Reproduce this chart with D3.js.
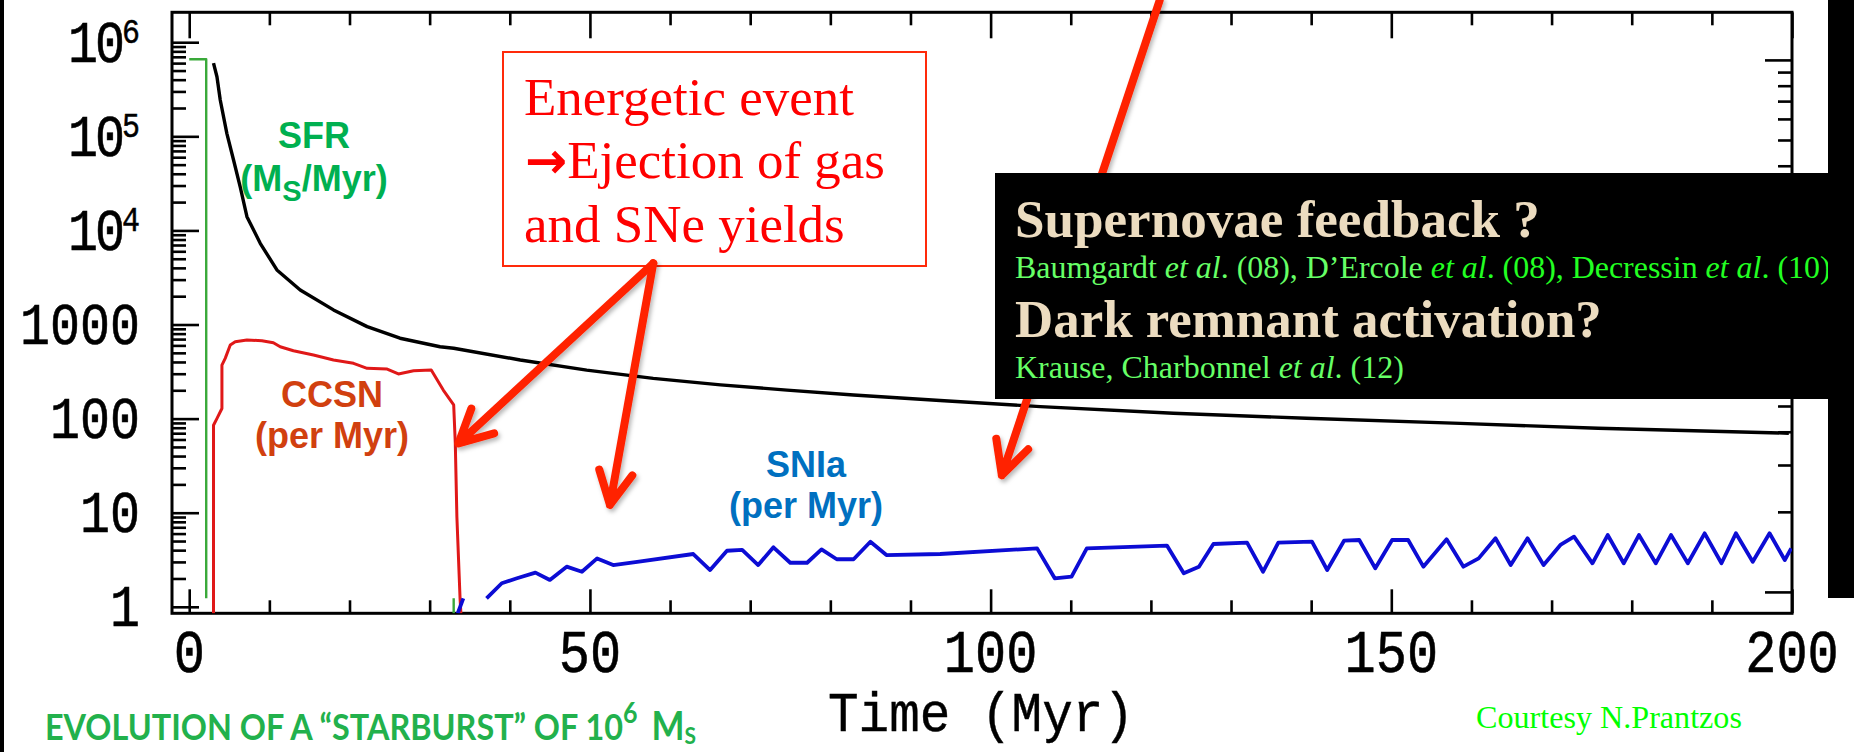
<!DOCTYPE html>
<html>
<head>
<meta charset="utf-8">
<script src="https://cdn.jsdelivr.net/npm/d3@7"></script>
<style>
  html, body { margin: 0; padding: 0; background: #fff; overflow: hidden; }
  svg { display: block; }
</style>
</head>
<body>
<svg id="chart" width="1854" height="752"></svg>
<script>
// ---------- data (time in Myr, rates on a log axis) ----------
// Star formation rate (Msun/Myr): instantaneous burst, then a tiny late blip
const sfrTime = [0, 2.12, 2.12, 2.12, 33.0, 33.0];
const sfrRate = [6.6e5, 6.6e5, 1.23, null, 0.85, 1.23];

// Mass return / ejecta curve (black)
const ejectaTime = [3.03, 3.46, 3.87, 4.7, 5.53, 6.36, 7.2, 8.86, 10.94, 13.85, 18.0, 22.2, 26.3,
  31.3, 33.0, 41.3, 49.6, 57.9, 66.3, 74.6, 82.9, 93.7, 106.2, 122.8, 139.4, 158.6, 175.8, 199.6];
const ejectaRate = [6.0e5, 4.3e5, 2.43e5, 1.07e5, 5.6e4, 2.9e4, 1.4e4, 7300, 3800, 2330, 1430, 950, 715,
  580, 560, 420, 328, 268, 228, 201, 178, 156, 134, 114, 101, 89, 79, 70];

// Core-collapse supernovae per Myr
const ccsnTime = [3.03, 3.03, 3.45, 4.08, 4.08, 4.49, 5.12, 5.74, 7.2, 9.07, 10.5, 11.35, 13.0, 15.5,
  18.0, 20.5, 22.2, 24.7, 26.1, 28.0, 30.2, 31.7, 33.0, 33.2, 33.4, 33.8, 33.9];
const ccsnRate = [0.85, 85, 100, 128, 370, 437, 605, 656, 684, 673, 641, 581, 527, 474,
  420, 387, 342, 336, 298, 323, 328, 201, 140, 55, 9, 1.2, 0.85];

// Type Ia supernovae per Myr
const sn1aTime = [33.5, 34.2, 35.0, 37.1, 39.0, 40.9, 43.2, 45.0, 47.1, 49.0, 50.9, 52.9, 55.9, 62.9, 65.0,
  67.1, 69.0, 71.0, 72.9, 75.0, 77.1, 78.9, 80.8, 82.9, 85.0, 87.0, 93.7, 105.8, 108.0, 110.1, 112.0,
  122.0, 124.1, 126.0, 127.8, 132.0, 134.0, 135.9, 140.1, 142.0, 144.1, 146.0, 148.0, 150.1, 152.1,
  154.0, 156.9, 159.0, 160.9, 163.0, 164.9, 167.0, 169.0, 171.1, 172.8, 175.1, 177.0, 179.0, 180.9,
  183.0, 184.9, 187.0, 189.1, 191.2, 193.0, 195.1, 197.2, 199.1, 199.9];
const sn1aRate = [0.85, 1.23, null, 1.23, 1.78, 2.01, 2.31, 1.93, 2.67, 2.36, 3.27, 2.78, 3.01, 3.64, 2.46,
  3.94, 4.02, 2.78, 4.29, 2.94, 2.94, 4.08, 3.2, 3.2, 4.92, 3.55, 3.64, 4.18, 2.01, 2.09, 4.18,
  4.47, 2.27, 2.67, 4.65, 4.8, 2.36, 4.8, 4.92, 2.46, 5.04, 5.13, 2.57, 5.13, 5.13,
  2.67, 5.21, 2.67, 3.27, 5.35, 2.78, 5.35, 2.78, 4.54, 5.56, 2.9, 5.79, 2.9, 5.79,
  2.9, 5.79, 2.9, 6.04, 2.9, 6.04, 3.01, 6.04, 3.14, 4.18];

// axis ticks and labels
const xMajorTicks = [0, 50, 100, 150, 200];
const xMinorTicks = [10, 20, 30, 40, 60, 70, 80, 90, 110, 120, 130, 140, 160, 170, 180, 190];
const yMajorTicks = [1, 10, 100, 1000, 1e4, 1e5, 1e6];
const yTickLabels = [["1"], ["10"], ["100"], ["1000"], ["10", "4"], ["10", "5"], ["10", "6"]];
const rightMajorTicks = [1, 10, 100];
const xAxisTitle = "Time (Myr)";

// annotation arrows, anchored in data space [time, rate]
const arrowFrom = [[57.9, 4470], [57.9, 4470], [121.1, 2.8e6]];
const arrowTo = [[33.6, 54.6], [52.5, 12.1], [101.4, 25]];

// ---------- layout ----------
const svg = d3.select("#chart");
const frame = { left: 172, right: 1792, top: 12.3, bottom: 613.3 };

const x = d3.scaleLinear().domain([-2.15, 200]).range([frame.left, frame.right]);
const y = d3.scaleLog().domain([0.853, 2.08e6]).range([frame.bottom, frame.top]);
const yRight = d3.scaleLog().domain([0.831, 151]).range([frame.bottom, frame.top]);

const yMinorTicks = yMajorTicks.slice(0, -1).flatMap(d => d3.range(2, 10).map(m => m * d));
const rightMinorTicks = rightMajorTicks.slice(0, -1).flatMap(d => d3.range(2, 10).map(m => m * d));

svg.append("rect").attr("width", 1854).attr("height", 752).attr("fill", "#fff");

const defs = svg.append("defs");
defs.append("clipPath").attr("id", "plotClip").append("rect")
  .attr("x", frame.left).attr("y", frame.top)
  .attr("width", frame.right - frame.left).attr("height", frame.bottom - frame.top);
const shadow = defs.append("filter").attr("id", "arrowShadow")
  .attr("x", "-20%").attr("y", "-20%").attr("width", "140%").attr("height", "140%");
shadow.append("feDropShadow").attr("dx", 2).attr("dy", 3).attr("stdDeviation", 2)
  .attr("flood-color", "#000").attr("flood-opacity", 0.28);

// ---------- axes ----------
function styleAxis(g) {
  g.select(".domain").remove();
  g.selectAll(".tick line").attr("stroke", "#000").attr("stroke-width", 2.6);
  g.selectAll(".tick text").remove();
}
const axes = svg.append("g");
axes.append("g").attr("transform", `translate(0,${frame.bottom})`)
  .call(d3.axisTop(x).tickValues(xMinorTicks).tickSize(13)).call(styleAxis);
axes.append("g").attr("transform", `translate(0,${frame.bottom})`)
  .call(d3.axisTop(x).tickValues(xMajorTicks).tickSize(24)).call(styleAxis);
axes.append("g").attr("transform", `translate(0,${frame.top})`)
  .call(d3.axisBottom(x).tickValues(xMinorTicks).tickSize(13)).call(styleAxis);
axes.append("g").attr("transform", `translate(0,${frame.top})`)
  .call(d3.axisBottom(x).tickValues(xMajorTicks).tickSize(26)).call(styleAxis);
axes.append("g").attr("transform", `translate(${frame.left},0)`)
  .call(d3.axisRight(y).tickValues(yMinorTicks).tickSize(14)).call(styleAxis);
axes.append("g").attr("transform", `translate(${frame.left},0)`)
  .call(d3.axisRight(y).tickValues(yMajorTicks).tickSize(27)).call(styleAxis);
axes.append("g").attr("transform", `translate(${frame.right},0)`)
  .call(d3.axisLeft(yRight).tickValues(rightMinorTicks).tickSize(14)).call(styleAxis);
axes.append("g").attr("transform", `translate(${frame.right},0)`)
  .call(d3.axisLeft(yRight).tickValues(rightMajorTicks).tickSize(27)).call(styleAxis);

svg.append("rect")
  .attr("x", frame.left).attr("y", frame.top)
  .attr("width", frame.right - frame.left).attr("height", frame.bottom - frame.top)
  .attr("fill", "none").attr("stroke", "#000").attr("stroke-width", 3);

// tick labels (typewriter style, slightly tall)
const monoFont = "'Liberation Mono', 'Courier New', monospace";
const yLabels = svg.append("g");
yMajorTicks.forEach((v, i) => {
  const lab = yTickLabels[i];
  const g = yLabels.append("g").attr("transform", `translate(140,${y(v) + 19.5}) scale(1,1.18)`);
  const t = g.append("text").attr("text-anchor", "end")
    .attr("font-family", monoFont).attr("font-size", 50).attr("fill", "#000")
    .attr("stroke", "#000").attr("stroke-width", 0.5);
  if (lab.length === 1) {
    t.text(lab[0]);
  } else {
    t.append("tspan").attr("letter-spacing", -3).text(lab[0]);
    t.append("tspan").attr("font-size", 30).attr("dy", -16).attr("stroke-width", 0.4).text(lab[1]);
  }
});
const xLabels = svg.append("g");
xMajorTicks.forEach(v => {
  xLabels.append("g").attr("transform", `translate(${x(v)},672) scale(1,1.18)`)
    .append("text").attr("text-anchor", "middle")
    .attr("font-family", monoFont).attr("font-size", 52).attr("fill", "#000")
    .attr("stroke", "#000").attr("stroke-width", 0.5).text(v);
});
svg.append("g").attr("transform", `translate(981,731) scale(1,1.1)`)
  .append("text").attr("text-anchor", "middle")
  .attr("font-family", monoFont).attr("font-size", 51).attr("fill", "#000")
  .attr("stroke", "#000").attr("stroke-width", 0.4).text(xAxisTitle);

// ---------- curves ----------
const toPoints = (ts, vs) => ts.map((t, i) => ({ t, v: vs[i] }));
const line = d3.line().defined(d => d.v != null).x(d => x(d.t)).y(d => y(d.v));
const curves = svg.append("g").attr("clip-path", "url(#plotClip)")
  .attr("fill", "none").attr("stroke-linejoin", "round");
curves.append("path").attr("d", line(toPoints(sfrTime, sfrRate)))
  .attr("stroke", "#3aa93a").attr("stroke-width", 2.4);
curves.append("path").attr("d", line(toPoints(ejectaTime, ejectaRate)))
  .attr("stroke", "#000").attr("stroke-width", 3.4);
curves.append("path").attr("d", line(toPoints(ccsnTime, ccsnRate)))
  .attr("stroke", "#e01818").attr("stroke-width", 3);
curves.append("path").attr("d", line(toPoints(sn1aTime, sn1aRate)))
  .attr("stroke", "#0c0cd4").attr("stroke-width", 3.8);

// ---------- series labels ----------
const sansBold = "'Liberation Sans', Arial, sans-serif";
function seriesLabel(cx, base1, line1, color) {
  return svg.append("text").attr("x", cx).attr("y", base1).attr("text-anchor", "middle")
    .attr("font-family", sansBold).attr("font-weight", "bold").attr("font-size", 36)
    .attr("fill", color).text(line1);
}
seriesLabel(314, 148, "SFR", "#00b050");
const sfrUnit = svg.append("text").attr("x", 314).attr("y", 191).attr("text-anchor", "middle")
  .attr("font-family", sansBold).attr("font-weight", "bold").attr("font-size", 36).attr("fill", "#00b050");
sfrUnit.append("tspan").text("(M");
sfrUnit.append("tspan").attr("font-size", 29).attr("dy", 10).text("S");
sfrUnit.append("tspan").attr("dy", -10).text("/Myr)");

seriesLabel(332, 407, "CCSN", "#d1400f");
seriesLabel(332, 448, "(per Myr)", "#d1400f");
seriesLabel(806, 477, "SNIa", "#0070c0");
seriesLabel(806, 518, "(per Myr)", "#0070c0");

// ---------- helpers ----------
function fitWidth(sel, target) {
  const w = sel.node().getComputedTextLength();
  const fs = parseFloat(sel.attr("font-size"));
  if (w > 0) sel.attr("font-size", fs * target / w);
  return parseFloat(sel.attr("font-size"));
}
const serif = "'Liberation Serif', 'Times New Roman', serif";

// ---------- red call-out box ----------
svg.append("rect").attr("x", 503).attr("y", 52).attr("width", 423).attr("height", 214)
  .attr("fill", "#fff").attr("stroke", "#ff2a0a").attr("stroke-width", 2);
const first = svg.append("text").attr("x", 524).attr("y", 115)
  .attr("font-family", serif).attr("font-size", 53).attr("fill", "#ff0000").text("Energetic event");
const boxFs = fitWidth(first, 330);
const second = svg.append("text").attr("x", 525).attr("y", 178)
  .attr("font-family", serif).attr("font-size", boxFs).attr("fill", "#ff0000");
second.append("tspan").attr("font-family", "'DejaVu Sans', sans-serif").attr("font-weight", "bold")
  .attr("font-size", boxFs * 0.95).text("\u2192");
second.append("tspan").text("Ejection of gas");
svg.append("text").attr("x", 524).attr("y", 242)
  .attr("font-family", serif).attr("font-size", boxFs).attr("fill", "#ff0000").text("and SNe yields");

// ---------- arrows ----------
function arrowPath(x1, y1, x2, y2) {
  const a = Math.atan2(y1 - y2, x1 - x2), L = 37, s = 27 * Math.PI / 180;
  const w1 = [x2 + L * Math.cos(a + s), y2 + L * Math.sin(a + s)];
  const w2 = [x2 + L * Math.cos(a - s), y2 + L * Math.sin(a - s)];
  return `M${x1},${y1}L${x2},${y2}M${w1[0]},${w1[1]}L${x2},${y2}L${w2[0]},${w2[1]}`;
}
const arrows = svg.append("g").attr("fill", "none").attr("stroke", "#ff2200")
  .attr("stroke-width", 8).attr("stroke-linecap", "round").attr("stroke-linejoin", "round")
  .attr("filter", "url(#arrowShadow)");
arrowFrom.forEach((f, i) => {
  const to = arrowTo[i];
  arrows.append("path").attr("d", arrowPath(x(f[0]), y(f[1]), x(to[0]), y(to[1])));
});

// ---------- black question panel ----------
svg.append("rect").attr("x", 995).attr("y", 173).attr("width", 859).attr("height", 226).attr("fill", "#000");
const q1 = svg.append("text").attr("x", 1015).attr("y", 237).attr("font-family", serif)
  .attr("font-weight", "bold").attr("font-size", 53).attr("fill", "#ecdcc0").text("Supernovae feedback ?");
fitWidth(q1, 525);
const refs1 = svg.append("text").attr("x", 1015).attr("y", 278).attr("font-family", serif)
  .attr("font-size", 29);
[["Baumgardt ", "n", "#66ff66"], ["et al", "i", "#66ff66"], [". (08), D\u2019Ercole ", "n", "#66ff66"],
 ["et al", "i", "#22ff22"], [". (08), Decressin ", "n", "#22ff22"], ["et al", "i", "#22ff22"], [". (10)", "n", "#22ff22"]]
  .forEach(([s, st, c]) => refs1.append("tspan").attr("fill", c)
    .attr("font-style", st === "i" ? "italic" : "normal").text(s));
fitWidth(refs1, 816);
const q2 = svg.append("text").attr("x", 1015).attr("y", 337).attr("font-family", serif)
  .attr("font-weight", "bold").attr("font-size", 53).attr("fill", "#ecdcc0").text("Dark remnant activation?");
fitWidth(q2, 587);
const refs2 = svg.append("text").attr("x", 1015).attr("y", 378).attr("font-family", serif)
  .attr("font-size", 29).attr("fill", "#66ff66");
refs2.append("tspan").text("Krause, Charbonnel ");
refs2.append("tspan").attr("font-style", "italic").text("et al");
refs2.append("tspan").text(". (12)");
fitWidth(refs2, 389);

// ---------- page edges and footer ----------
svg.append("rect").attr("x", 0).attr("y", 0).attr("width", 4).attr("height", 752).attr("fill", "#000");
svg.append("rect").attr("x", 1828).attr("y", 0).attr("width", 26).attr("height", 598).attr("fill", "#000");

const credit = svg.append("text").attr("x", 1476).attr("y", 728).attr("font-family", serif)
  .attr("font-size", 32).attr("fill", "#00ff00").text("Courtesy N.Prantzos");
fitWidth(credit, 266);

// footer title, stretched a little vertically
const title = svg.append("g").attr("transform", "translate(45,740) scale(1,1.12)")
  .append("text").attr("x", 0).attr("y", 0)
  .attr("font-family", "Lato, 'Open Sans', sans-serif").attr("font-weight", "bold").attr("fill", "#22b14c");
const tMain = title.append("tspan").attr("font-size", 35).text("EVOLUTION OF A \u201CSTARBURST\u201D OF 10");
{
  const w = tMain.node().getComputedTextLength();
  tMain.attr("font-size", 35 * 578 / w);
}
title.append("tspan").attr("font-size", 25).attr("dy", -15).text("6");
title.append("tspan").attr("font-size", 35).attr("dy", 15).attr("dx", 14).text("M");
title.append("tspan").attr("font-size", 21).attr("dy", 4).text("S");
</script>
</body>
</html>
